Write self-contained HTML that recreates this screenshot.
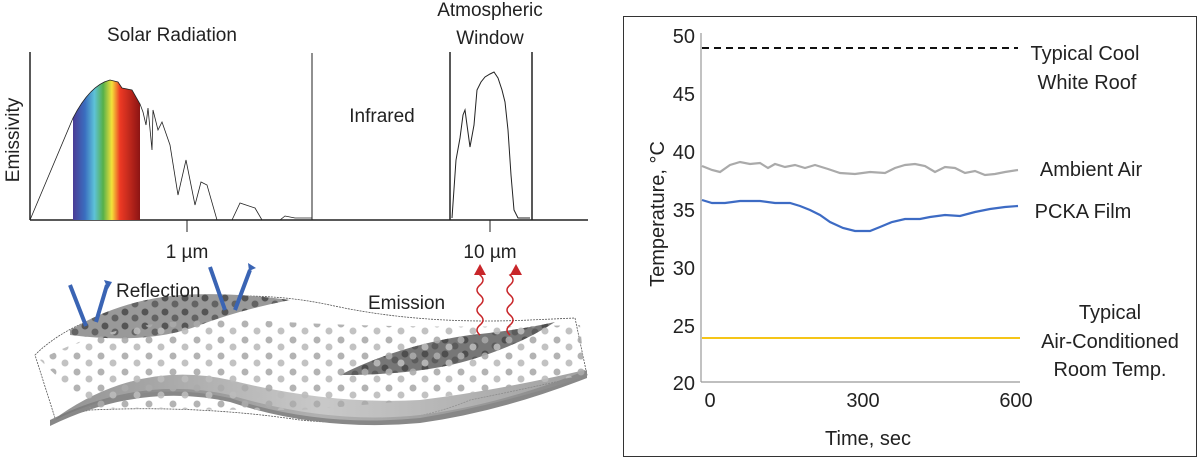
<!DOCTYPE html>
<html><head><meta charset="utf-8"><style>
body{margin:0;background:#fff;width:1200px;height:460px;overflow:hidden;font-family:"Liberation Sans",sans-serif}
</style></head><body>
<svg width="1200" height="460" xmlns="http://www.w3.org/2000/svg" font-family="Liberation Sans, sans-serif">
<defs>
<linearGradient id="rb" x1="0" x2="1" y1="0" y2="0">
<stop offset="0" stop-color="#4b3c96"/><stop offset="0.18" stop-color="#3a6fc0"/><stop offset="0.32" stop-color="#5ec2d8"/>
<stop offset="0.45" stop-color="#56b04a"/><stop offset="0.58" stop-color="#f5e23a"/><stop offset="0.7" stop-color="#ee3a24"/><stop offset="1" stop-color="#8c1414"/></linearGradient>
<linearGradient id="film" x1="0" x2="1" y1="0" y2="0">
<stop offset="0" stop-color="#777"/><stop offset="0.5" stop-color="#bbb"/><stop offset="1" stop-color="#888"/></linearGradient>
<pattern id="dots" width="24" height="16" patternUnits="userSpaceOnUse">
<circle cx="5" cy="4" r="3.5" fill="#aaa"/><circle cx="17" cy="11" r="3.5" fill="#bbb"/></pattern>
<pattern id="ddots" width="20" height="14" patternUnits="userSpaceOnUse">
<circle cx="5" cy="4" r="3.5" fill="#444"/><circle cx="15" cy="10" r="3.5" fill="#555"/></pattern>
</defs>
<!-- left chart -->
<text x="172" y="41" font-size="19" text-anchor="middle" fill="#222">Solar Radiation</text>
<text x="490" y="16" font-size="19" text-anchor="middle" fill="#222">Atmospheric</text>
<text x="490" y="44" font-size="19" text-anchor="middle" fill="#222">Window</text>
<text transform="translate(19,140) rotate(-90)" font-size="19" text-anchor="middle" fill="#222">Emissivity</text>
<text x="382" y="122" font-size="19" text-anchor="middle" fill="#222">Infrared</text>
<line x1="30" y1="52" x2="30" y2="220" stroke="#222" stroke-width="1.5"/>
<line x1="30" y1="220" x2="588" y2="220" stroke="#222" stroke-width="1.5"/>
<line x1="312" y1="53" x2="312" y2="220" stroke="#222" stroke-width="1"/>
<line x1="450" y1="52" x2="450" y2="220" stroke="#222" stroke-width="1.5"/>
<line x1="532" y1="52" x2="532" y2="220" stroke="#222" stroke-width="1.5"/>
<line x1="187" y1="220" x2="187" y2="232" stroke="#222"/>
<line x1="490" y1="220" x2="490" y2="232" stroke="#222"/>
<text x="187" y="258" font-size="19" text-anchor="middle" fill="#222">1 µm</text>
<text x="490" y="258" font-size="19" text-anchor="middle" fill="#222">10 µm</text>
<path d="M73,220 L73,118 Q90,85 110,80 L118,82 L122,88 L132,90 L140,104 L140,220 Z" fill="url(#rb)"/>
<path d="M30,220 L73,118 Q90,85 110,80 L118,82 L122,88 L132,90 L140,104 L143,112 L146,125 L148,108 L152,150 L153,110 L158,130 L162,122 L170,145 L178,195 L186,160 L195,205 L201,182 L207,185 L217,220 L232,220 L240,203 L255,208 L262,220 L280,220 L285,216 L295,218 L312,218" fill="none" stroke="#222" stroke-width="0.8"/>
<path d="M452,218 L456,160 L460,138 L463,115 L465,110 L467,125 L470,147 L474,125 L477,90 L481,82 L485,77 L490,74 L494,72 L498,78 L502,90 L505,102 L508,130 L511,175 L514,210 L518,218 L530,218" fill="none" stroke="#222" stroke-width="1"/>
<!-- film illustration -->
<path d="M35,355 Q80,310 180,300 Q260,290 330,305 Q420,325 530,320 L575,318 L587,375 Q520,390 470,400 Q400,430 300,420 Q200,405 90,410 L55,418 Z" fill="#fff" stroke="#555" stroke-dasharray="2,1" stroke-width="0.8"/>
<path d="M50,420 Q140,375 230,395 Q330,425 420,415 Q500,405 587,370 L587,378 Q500,412 420,423 Q320,432 230,402 Q140,382 50,426 Z" fill="#888"/>
<path d="M60,415 Q140,360 230,380 Q330,405 420,400 Q500,390 585,370 L587,376 Q500,405 420,418 Q320,428 230,398 Q140,378 55,420 Z" fill="url(#film)" opacity="0.8"/>
<path d="M70,330 Q120,300 180,295 Q230,292 290,300 Q240,310 200,325 Q150,345 70,335 Z" fill="#999"/>
<path d="M70,330 Q120,300 180,295 Q230,292 290,300 Q240,310 200,325 Q150,345 70,335 Z" fill="url(#ddots)" opacity="0.8"/>
<path d="M340,375 Q400,345 470,335 Q520,330 555,322 Q520,345 470,360 Q420,375 340,375 Z" fill="#777"/>
<path d="M340,375 Q400,345 470,335 Q520,330 555,322 Q520,345 470,360 Q420,375 340,375 Z" fill="url(#ddots)" opacity="0.8"/>
<path d="M40,360 Q120,315 250,320 Q400,330 580,325 L585,375 Q450,400 300,410 Q200,410 90,408 Z" fill="url(#dots)" opacity="0.9"/>
<!-- arrows -->
<g stroke="#3a64b4" stroke-width="4" fill="#3a64b4">
<line x1="70" y1="285" x2="86" y2="326"/><line x1="96" y1="322" x2="107" y2="285"/>
<line x1="210" y1="267" x2="225" y2="310"/><line x1="235" y1="310" x2="250" y2="270"/>
</g>
<polygon points="104,280 112,282 108,289" fill="#3a64b4"/><polygon points="248,263 256,268 249,271" fill="#3a64b4"/>
<text x="116" y="297" font-size="19" fill="#222">Reflection</text>
<text x="368" y="309" font-size="19" fill="#222">Emission</text>
<path d="M480,335 q-6,-5 0,-10 q6,-5 0,-10 q-6,-5 0,-10 q6,-5 0,-10 q-6,-5 0,-10 q6,-5 0,-10 L479,272" fill="none" stroke="#c8262a" stroke-width="1.5"/>
<path d="M510,335 q-6,-5 0,-10 q6,-5 0,-10 q-6,-5 0,-10 q6,-5 0,-10 q-6,-5 0,-10 q6,-5 0,-10 L515,272" fill="none" stroke="#c8262a" stroke-width="1.5"/>
<polygon points="474,275 480,264 486,275" fill="#c8262a"/><polygon points="510,275 516,264 522,275" fill="#c8262a"/>
<!-- right chart -->
<rect x="623.5" y="16.5" width="573" height="440" fill="none" stroke="#333" stroke-width="1"/>
<line x1="701" y1="33" x2="701" y2="382" stroke="#999" stroke-width="1.2"/>
<line x1="701" y1="382" x2="1020" y2="382" stroke="#999" stroke-width="1.2"/>
<g font-size="20" fill="#222" text-anchor="end">
<text x="695" y="43">50</text><text x="695" y="101">45</text><text x="695" y="159">40</text>
<text x="695" y="217">35</text><text x="695" y="275">30</text><text x="695" y="333">25</text><text x="695" y="390">20</text>
</g>
<g font-size="20" fill="#222" text-anchor="middle">
<text x="710" y="407">0</text><text x="863" y="407">300</text><text x="1016" y="407">600</text>
<text x="868" y="445">Time, sec</text>
</g>
<text transform="translate(664,214) rotate(-90)" font-size="20" fill="#222" text-anchor="middle">Temperature, °C</text>
<line x1="702" y1="48" x2="1018" y2="48" stroke="#111" stroke-width="2" stroke-dasharray="7,5"/>
<line x1="702" y1="338" x2="1020" y2="338" stroke="#f5c518" stroke-width="2"/>
<polyline fill="none" stroke="#aaa" stroke-width="2.2" points="702,166 712,170 720,172 730,165 740,162 750,164 760,163 768,168 775,164 785,167 795,165 805,168 815,165 828,169 840,173 855,174 870,172 885,173 895,168 905,165 915,164 925,166 935,172 945,167 955,168 965,173 975,171 985,175 995,174 1005,172 1018,170"/>
<polyline fill="none" stroke="#3d6bc4" stroke-width="2.2" points="702,200 712,203 725,203 740,201 760,201 775,203 790,203 800,206 810,210 820,215 830,222 843,228 855,231 870,231 880,227 892,222 905,219 920,219 930,217 945,215 960,216 975,212 990,209 1005,207 1018,206"/>
<g font-size="20" fill="#222" text-anchor="middle">
<text x="1085" y="60">Typical Cool</text><text x="1087" y="89">White Roof</text>
<text x="1091" y="176">Ambient Air</text><text x="1083" y="218">PCKA Film</text>
<text x="1110" y="319">Typical</text><text x="1110" y="348">Air-Conditioned</text><text x="1110" y="376">Room Temp.</text>
</g>
</svg>
</body></html>
